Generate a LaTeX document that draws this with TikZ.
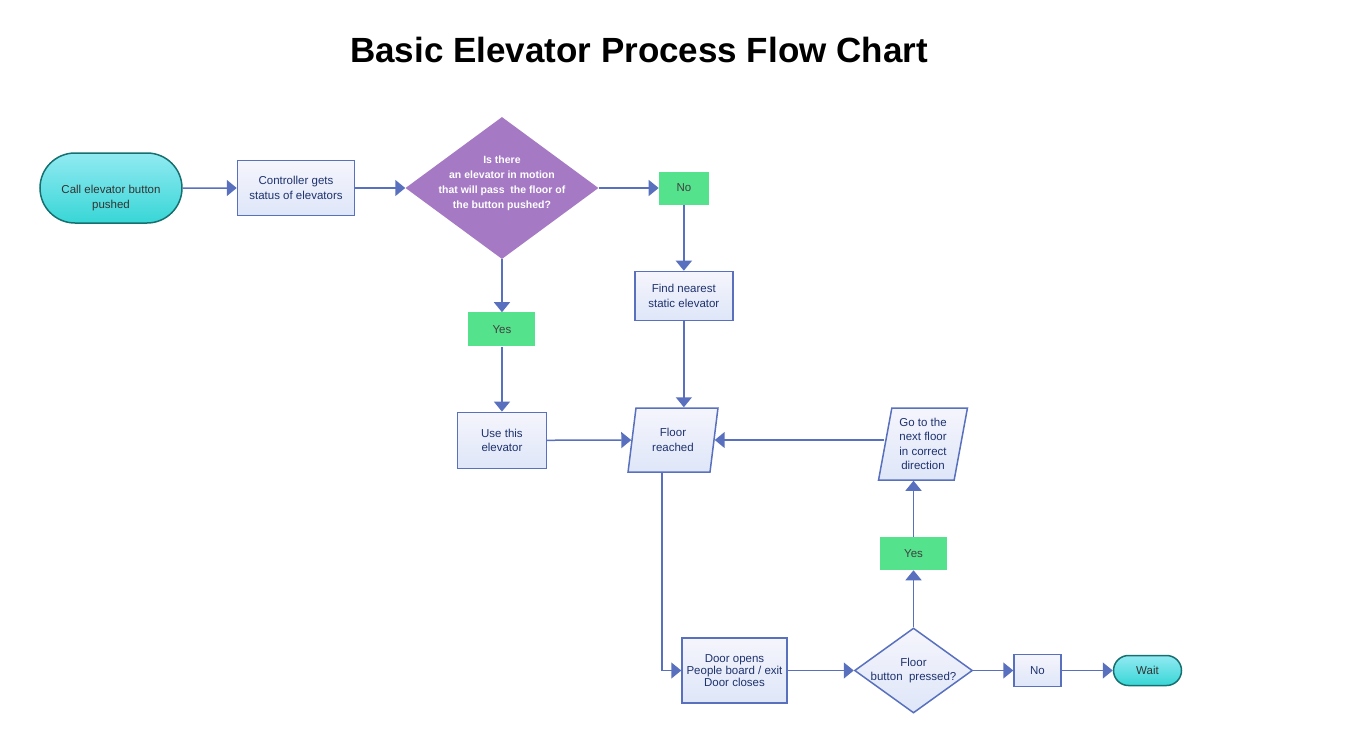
\documentclass[tikz,border=0pt]{standalone}
\usepackage{fontspec}
\setmainfont{Liberation Sans}
\usetikzlibrary{positioning,arrows.meta,shapes.geometric,shapes.misc}
\definecolor{lineblue}{RGB}{88,112,190}
\definecolor{boxtext}{RGB}{30,50,110}
\definecolor{decpurple}{RGB}{165,121,196}
\definecolor{yesgreen}{RGB}{85,226,140}
\definecolor{termtop}{RGB}{145,234,242}
\definecolor{termbot}{RGB}{56,214,214}
\definecolor{termedge}{RGB}{22,112,112}
\definecolor{boxtop}{RGB}{245,245,252}
\definecolor{boxbot}{RGB}{222,230,248}

\begin{document}
\begin{tikzpicture}[x=1pt, y=-1pt, node distance=50pt,
    font=\fontsize{11.5}{14.5}\selectfont,
    terminal/.style={rounded rectangle, draw=termedge, line width=1.5pt, top color=termtop, bottom color=termbot, text=black!80, align=center, inner sep=0pt},
    process/.style={rectangle, draw=lineblue, line width=1.5pt, top color=boxtop, bottom color=boxbot, text=boxtext, align=center, inner sep=0pt},
    answer/.style={rectangle, fill=yesgreen, text=black!75, inner sep=0pt},
    io/.style={trapezium, trapezium left angle=79, trapezium right angle=101, trapezium stretches=true, draw=lineblue, line width=1.5pt, top color=boxtop, bottom color=boxbot, text=boxtext, align=center, inner sep=0pt},
    decision/.style={diamond, inner sep=0pt},
    flow/.style={draw=lineblue, line width=1.5pt, -{Triangle[length=10pt,width=16pt]}}]

    \useasboundingbox (0,0) rectangle (1372,731);

    % Title
    \node[font=\fontsize{35}{40}\selectfont\bfseries] (title) at (639,50) {Basic Elevator Process Flow Chart};

    % Top row
    \node[terminal, minimum width=142pt, minimum height=70pt,
      label={[align=center, text=black!80, yshift=-10pt]center:Call elevator button\\pushed}] (start) at (111,188) {};
    \node[process, minimum width=117pt, minimum height=55pt, right=54pt of start] (ctrl) {Controller gets\\status of elevators};
    \node[decision, fill=decpurple, minimum width=193pt, minimum height=142pt, right=50pt of ctrl,
      label={[align=center, text=white, yshift=5pt, font=\fontsize{10.5}{15}\selectfont\bfseries]center:Is there\\an elevator in motion\\that will pass~~the floor of\\the button pushed?}] (motion) {};
    \node[answer, minimum width=50pt, minimum height=33pt, right=60pt of motion] (no1) {No};

    % Middle
    \node[process, minimum width=98pt, minimum height=49pt, below=66pt of no1] (find) {Find nearest\\static elevator};
    \node[answer, minimum width=67pt, minimum height=34pt, below=53pt of motion] (yes1) {Yes};
    \node[process, minimum width=89pt, minimum height=56pt, below=65pt of yes1] (use) {Use this\\elevator};
    \node[io, minimum width=90pt, minimum height=64pt] (reached) at (673,440) {Floor\\reached};
    \node[io, minimum width=89pt, minimum height=72pt] (go) at (923,444) {Go to the\\next floor\\in correct\\direction};

    % Bottom row
    \node[process, minimum width=105pt, minimum height=65pt, font=\fontsize{11.5}{12}\selectfont] (door) at (734.5,670.5) {Door opens\\People board / exit\\Door closes};
    \node[decision, draw=lineblue, line width=1.5pt, top color=boxtop, bottom color=boxbot, minimum width=118pt, minimum height=85pt, right=66pt of door,
      label={[align=center, text=boxtext]center:Floor\\button~~pressed?}] (pressed) {};
    \node[answer, minimum width=67pt, minimum height=33pt, above=57pt of pressed] (yes2) {Yes};
    \node[process, minimum width=47pt, minimum height=32pt, right=40pt of pressed] (no2) {No};
    \node[terminal, minimum width=68pt, minimum height=30pt, right=51pt of no2] (wait) {Wait};

    % Connectors
    \draw[flow] (start) -- (ctrl);
    \draw[flow] (ctrl) -- (motion);
    \draw[flow] (motion) -- (no1);
    \draw[flow] (no1) -- (find);
    \draw[flow] (motion) -- (yes1);
    \draw[flow] (yes1.south) -- (yes1.south |- use.north);
    \draw[flow] (find.south) -- (find.south |- reached.north);
    \draw[flow] (use) -- (reached);
    \draw[flow] (reached.east -| go.west) -- (reached.east);
    \draw[flow] ([xshift=-11pt]reached.south) |- (door.west);
    \draw[flow] (door) -- (pressed);
    \draw[flow] (pressed) -- (yes2);
    \draw[flow] (yes2.north) -- (yes2.north |- go.south);
    \draw[flow] (pressed) -- (no2);
    \draw[flow] (no2) -- (wait);
\end{tikzpicture}
\end{document}
